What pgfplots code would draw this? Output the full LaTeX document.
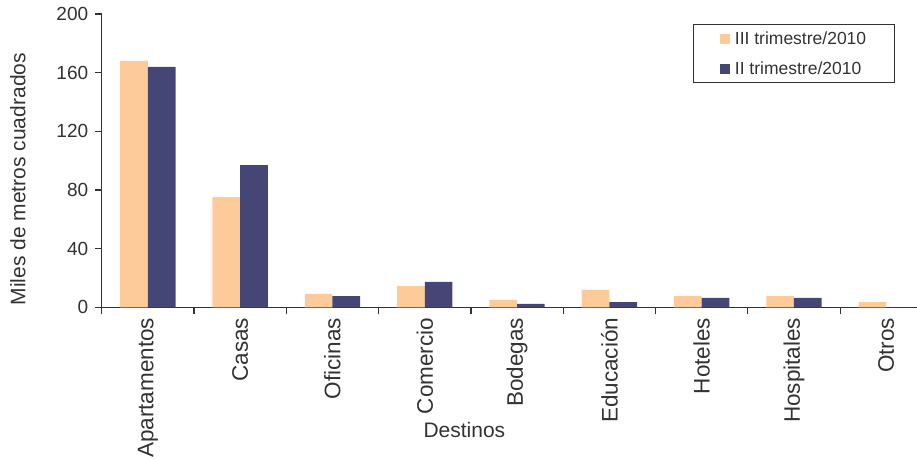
\documentclass[border=0pt]{standalone}
\usepackage{pgfplots}
\pgfplotsset{compat=1.18}
\usepackage{fontspec}
\setmainfont{Liberation Sans}
\definecolor{peach}{RGB}{253,203,154}
\definecolor{navy}{RGB}{70,70,118}
\definecolor{axgray}{RGB}{51,51,51}

\begin{document}
\begin{tikzpicture}
\begin{axis}[
  name=ax,
  scale only axis, width=815pt, height=293.3pt,
  xmin=-0.5, xmax=8.33, ymin=0, ymax=200,
  axis lines*=left,
  axis line style={draw=axgray, line width=1.2pt},
  ybar=0pt, bar width=0.3,
  tick align=outside,
  xtick={0,...,8},
  xticklabels={Apartamentos,Casas,Oficinas,Comercio,Bodegas,Educación,Hoteles,Hospitales,Otros},
  minor xtick={-0.5,0.5,...,7.5},
  major x tick style={draw=none},
  minor x tick style={draw=axgray, line width=1.2pt},
  y tick style={draw=axgray, line width=1.2pt},
  major tick length=7pt, minor tick length=7pt,
  ytick={0,40,...,200},
  /pgf/number format/assume math mode=true,
  xticklabel style={rotate=90, anchor=east, text=axgray, font=\fontsize{22.5}{26}\selectfont},
  yticklabel style={text=axgray, font=\fontsize{19}{22}\selectfont, xshift=-3pt},
  xlabel={Destinos},
  ylabel={Miles de metros cuadrados},
  xlabel style={at={(axis description cs:0.445,-0.4184)}, anchor=center, text=axgray, font=\fontsize{21}{24}\selectfont},
  ylabel style={at={(axis description cs:-0.1027,0.437)}, anchor=center, rotate=0, text=axgray, font=\fontsize{21}{24}\selectfont},
  legend style={at={(0.973,0.966)}, anchor=north east, draw=axgray, line width=1pt,
    font=\fontsize{17.5}{20}\selectfont, text=axgray, row sep=12pt,
    inner xsep=26pt, inner ysep=5pt},
  legend cell align=left,
  legend image code/.code={\fill[#1] (0pt,-5pt) rectangle (10pt,5pt); \path (13pt,0pt);},
]
\addplot[fill=peach, draw=none] coordinates {(0,168) (1,75.2) (2,9.1) (3,14.5) (4,5.0) (5,11.8) (6,7.7) (7,7.7) (8,3.6)};
\addplot[fill=navy, draw=none] coordinates {(0,164) (1,97) (2,7.7) (3,17.3) (4,2.3) (5,3.6) (6,6.4) (7,6.4) (8,0)};
\legend{III trimestre/2010, II trimestre/2010}
\end{axis}
\pgfresetboundingbox
\path[use as bounding box] ([shift={(-101.7pt,-150.7pt)}]ax.south west) rectangle ([shift={(815.3pt,307.3pt)}]ax.south west);
\end{tikzpicture}
\end{document}
